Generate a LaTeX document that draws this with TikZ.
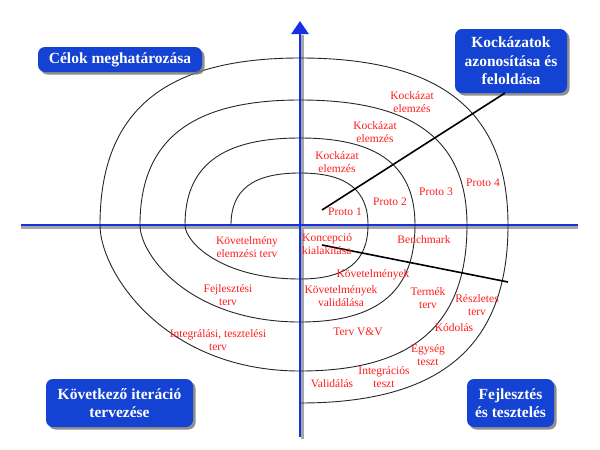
\documentclass[tikz,border=0pt]{standalone}
\usepackage{fontspec}
\setmainfont{Liberation Serif}
\usetikzlibrary{arrows.meta,shadows}
\definecolor{axisblue}{RGB}{22,48,226}
\definecolor{boxblue}{RGB}{20,66,210}
\definecolor{lblred}{RGB}{255,28,28}
\tikzset{
  spiral/.style={draw=black!85, line width=0.9pt},
  axisline/.style={draw=axisblue, line width=2.6pt},
  axisshadow/.style={draw=black!35, line width=2.6pt},
  pointer/.style={draw=black, line width=1.6pt},
  phasebox/.style={fill=boxblue, rounded corners=7pt, text=white,
    font=\fontsize{15.5}{18.5}\selectfont\bfseries, align=center, inner sep=2pt,
    drop shadow={shadow xshift=2.5pt, shadow yshift=-2.5pt, fill=black!55, opacity=0.8}},
  lbl/.style={text=lblred, font=\fontsize{11.5}{13.5}\selectfont, align=center, inner sep=0pt}
}
\begin{document}
\begin{tikzpicture}[x=1pt,y=-1pt]
\useasboundingbox (0,0) rectangle (600,450);
% axes with shadow
\draw[axisshadow] (21,227.5) -- (578,227.5);
\draw[axisshadow] (302.5,35) -- (302.5,439);
\draw[axisline] (21,225) -- (578,225);
\draw[axisline, -{Triangle[width=17pt,length=13pt]}] (300,437) -- (300,21);
% spiral
\draw[spiral] (231,225)
  .. controls (231,189.6) and (253.1,173) .. (300,173)
  .. controls (346.2,173) and (368,189.6) .. (368,225)
  .. controls (368,261.7) and (346.2,279) .. (300,279)
  .. controls (221.8,279) and (185,242.3) .. (185,225)
  .. controls (185,165.8) and (221.8,138) .. (300,138)
  .. controls (378.2,138) and (415,165.8) .. (415,225)
  .. controls (415,291) and (378.2,322) .. (300,322)
  .. controls (191.2,322) and (140,256) .. (140,225)
  .. controls (140,140) and (191.2,100) .. (300,100)
  .. controls (413.6,100) and (467,140) .. (467,225)
  .. controls (467,324.3) and (413.6,371) .. (300,371)
  .. controls (164,371) and (100,271.7) .. (100,225)
  .. controls (100,111.4) and (164,58) .. (300,58)
  .. controls (441.4,58) and (508,111.4) .. (508,225)
  .. controls (508,346) and (441.4,403) .. (300,403);
% phase boxes
\node[phasebox, minimum width=164pt, minimum height=25pt] (goals) at (120,59.5) {Célok meghatározása};
\node[phasebox, minimum width=112pt, minimum height=64pt] (risk) at (511,61) {Kockázatok\\azonosítása és\\feloldása};
\node[phasebox, minimum width=147pt, minimum height=48pt] (next) at (119.5,403) {Következő iteráció\\tervezése};
\node[phasebox, minimum width=87pt, minimum height=48pt] (dev) at (510.5,403) {Fejlesztés\\és tesztelés};
% pointer lines
\coordinate (riskstart) at (322,210);
\coordinate (riskend) at (505,93);
\coordinate (devstart) at (322,245);
\coordinate (devend) at (508,282);
\draw[pointer] (riskstart) -- (riskend);
\draw[pointer] (devstart) -- (devend);
% labels top-right
\node[lbl] (ka3) at (412,102) {Kockázat\\elemzés};
\node[lbl] (ka2) at (375,132) {Kockázat\\elemzés};
\node[lbl] (ka1) at (337,162) {Kockázat\\elemzés};
\node[lbl] (p1) at (345,212) {Proto 1};
\node[lbl] (p2) at (390,202) {Proto 2};
\node[lbl] (p3) at (436,192) {Proto 3};
\node[lbl] (p4) at (483,183) {Proto 4};
% labels bottom-left
\node[lbl] (kovt) at (247,247) {Követelmény\\elemzési terv};
\node[lbl] (fejt) at (228,295) {Fejlesztési\\terv};
\node[lbl] (intt) at (218,340) {Integrálási, tesztelési\\terv};
% labels bottom-right
\node[lbl, anchor=west, align=left] (konc) at (302,244) {Koncepció\\kialakítása};
\node[lbl] (bench) at (424,240) {Benchmark};
\node[lbl] (kovs) at (373,275) {Követelmények};
\node[lbl] (kovv) at (341,296) {Követelmények\\validálása};
\node[lbl] (termek) at (428,298) {Termék\\terv};
\node[lbl] (reszl) at (477,305) {Részletes\\terv};
\node[lbl] (tvv) at (358,332) {Terv V\&V};
\node[lbl] (kod) at (454,328) {Kódolás};
\node[lbl] (egys) at (428,355) {Egység\\teszt};
\node[lbl] (integ) at (384,377) {Integrációs\\teszt};
\node[lbl] (valid) at (332,384) {Validálás};
\end{tikzpicture}
\end{document}
